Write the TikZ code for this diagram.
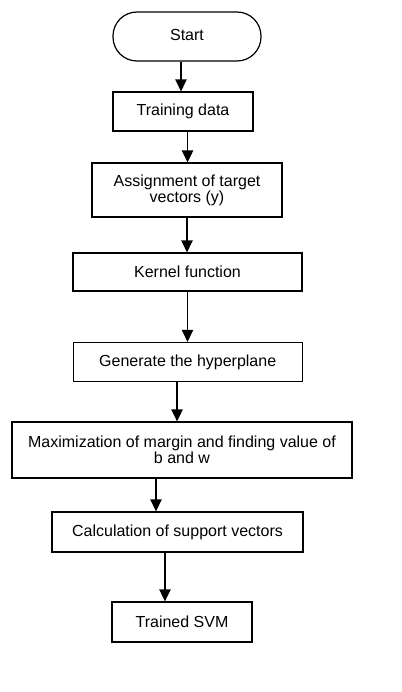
\documentclass[tikz,border=0pt]{standalone}
\usepackage{fontspec}
\setmainfont{Liberation Sans}
\usetikzlibrary{arrows.meta}

\begin{document}
\begin{tikzpicture}[x=0.75pt, y=-0.75pt]
    \tikzstyle{box}=[draw, line width=0.9pt, rectangle, align=center, inner sep=0pt,
                     font=\fontsize{12}{11}\selectfont]
    \tikzstyle{terminal}=[box, rounded corners=18pt]
    \tikzstyle{flow}=[draw, line width=1pt, -{Triangle[length=9pt, width=8.5pt]}]

    \useasboundingbox (0,0) rectangle (402,692);

    \node[terminal, minimum width=111pt, minimum height=36.75pt] (start) at (187,36.5) {\raisebox{3pt}{Start}};
    \node[box, minimum width=105pt, minimum height=29.25pt] (train) at (183,111.5) {Training data};
    \node[box, minimum width=142.5pt, minimum height=40.5pt] (assign) at (187,190) {Assignment of target\\vectors (y)};
    \node[box, minimum width=171.75pt, minimum height=28.5pt] (kernel) at (187.5,272) {Kernel function};
    \node[box, minimum width=171.75pt, minimum height=29.25pt] (hyper) at (187.7,362) {Generate the hyperplane};
    \node[box, minimum width=255pt, minimum height=42pt] (margin) at (182,450) {Maximization of margin and finding value of\\b and w};
    \node[box, minimum width=188.25pt, minimum height=30pt] (support) at (177.5,532) {Calculation of support vectors};
    \node[box, minimum width=105pt, minimum height=30pt] (svm) at (182,622) {Trained SVM};

    \draw[flow] ([xshift=-4.5pt]start.south) -- ([xshift=-4.5pt]start.south |- train.north);
    \draw[flow] ([xshift=3.4pt]train.south) -- ([xshift=3.4pt]train.south |- assign.north);
    \draw[flow] (assign.south) -- (assign.south |- kernel.north);
    \draw[flow] (kernel.south) -- (kernel.south |- hyper.north);
    \draw[flow] ([xshift=-8pt]hyper.south) -- ([xshift=-8pt]hyper.south |- margin.north);
    \draw[flow] ([xshift=-19.5pt]margin.south) -- ([xshift=-19.5pt]margin.south |- support.north);
    \draw[flow] ([xshift=-9.4pt]support.south) -- ([xshift=-9.4pt]support.south |- svm.north);
\end{tikzpicture}
\end{document}
